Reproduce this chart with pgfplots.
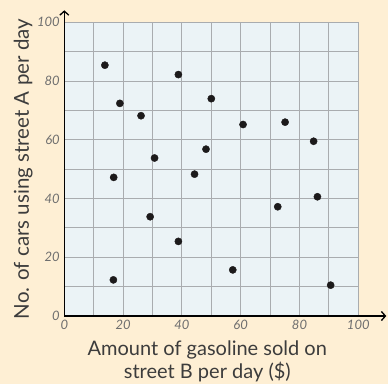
\documentclass[border=0pt]{standalone}
\usepackage{fontspec}
\setmainfont{Lato}
\usepackage{pgfplots}
\pgfplotsset{compat=1.18}
\usetikzlibrary{arrows.meta}
\definecolor{bgcream}{HTML}{FEEFD4}
\definecolor{plotbg}{HTML}{EBF3F6}
\definecolor{gridgray}{HTML}{A9ACAF}
\definecolor{ticklab}{HTML}{6E6E6E}
\definecolor{labtext}{HTML}{3C3C3C}
\definecolor{dotc}{HTML}{1C1A1B}
\begin{document}
\begin{tikzpicture}
\path[use as bounding box, fill=bgcream] (-64.3pt,-68pt) rectangle (323.7pt,316pt);
\begin{axis}[
  at={(0,0)}, anchor=south west,
  scale only axis, width=294pt, height=293.7pt,
  xmin=0, xmax=100, ymin=0, ymax=100,
  axis lines=left,
  axis line style={-, line width=1.3pt, black},
  axis background/.style={fill=plotbg},
  xtick={0,20,...,100}, ytick={0,20,...,100},
  minor xtick={10,30,...,90}, minor ytick={10,30,...,90},
  grid=both,
  grid style={gridgray, line width=0.9pt},
  minor grid style={gridgray, line width=0.9pt},
  major tick length=0pt, minor tick length=0pt,
  /pgf/number format/assume math mode=true,
  tick label style={font=\fontsize{13}{15}\selectfont\itshape, text=ticklab},
  xticklabel style={yshift=-1pt},
  yticklabel style={xshift=-1pt},
  every axis x label/.style={at={([yshift=-45pt,xshift=-4pt]axis description cs:0.5,0)}, anchor=center},
  every axis y label/.style={at={([xshift=-41pt]axis description cs:0,0.5)}, anchor=center, rotate=90},
  xlabel style={align=center, font=\fontsize{20}{23}\selectfont, text=labtext},
  ylabel style={font=\fontsize{20.5}{24}\selectfont, text=labtext},
  xlabel={Amount of gasoline sold on\\street B per day (\$)},
  ylabel={No. of cars using street A per day},
  clip=false,
]
\addplot[only marks, mark=*, mark size=3.6pt, dotc] coordinates {
 (13.8,85.4) (38.8,82.2) (18.9,72.4) (50.0,74.0) (26.1,68.2)
 (60.8,65.2) (75.1,66.0) (84.8,59.5) (48.2,56.8) (30.7,53.8)
 (44.3,48.3) (16.8,47.2) (86.1,40.6) (72.6,37.2) (29.2,33.8)
 (38.8,25.4) (57.3,15.7) (16.7,12.3) (90.6,10.5)
};
\draw[line width=1.3pt, -{Straight Barb[length=4pt,width=9pt]}] (axis cs:100,0) -- ++(28pt,0);
\draw[line width=1.3pt, -{Straight Barb[length=4pt,width=9pt]}] (axis cs:0,100) -- ++(0,12pt);
\end{axis}
\end{tikzpicture}
\end{document}
